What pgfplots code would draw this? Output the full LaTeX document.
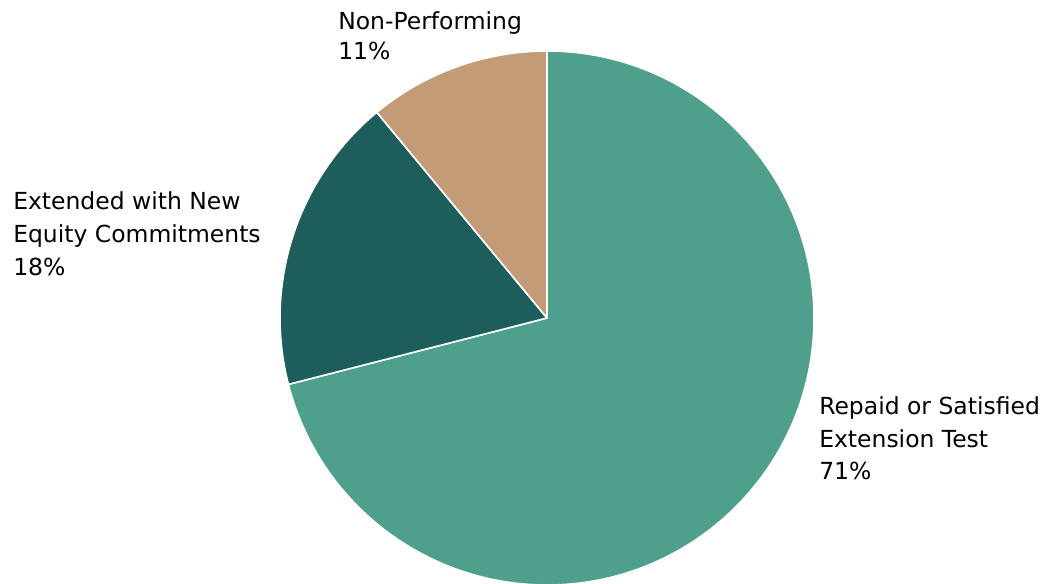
\documentclass[border=0pt]{standalone}
\usepackage{pgfplots}
\usepackage{pgfplotstable}
\usepackage{fontspec}
\setmainfont{DejaVu Sans}
\pgfplotsset{compat=1.18}
\definecolor{cRepaid}{RGB}{78,159,139}
\definecolor{cExt}{RGB}{29,94,92}
\definecolor{cNon}{RGB}{196,155,119}
\pgfplotstableread{
label value
Repaid 71
Extended 18
NonPerforming 11
}\piedata
\pgfplotstablegetelem{0}{value}\of\piedata \edef\va{\pgfplotsretval}
\pgfplotstablegetelem{1}{value}\of\piedata \edef\vb{\pgfplotsretval}
\pgfplotstablegetelem{2}{value}\of\piedata \edef\vc{\pgfplotsretval}
\pgfmathsetmacro\aS{90}
\pgfmathsetmacro\aA{90-3.6*\va}
\pgfmathsetmacro\aB{\aA-3.6*\vb}
\pgfmathsetmacro\aC{\aB-3.6*\vc}
\def\R{200.25pt}
\begin{document}
\begin{tikzpicture}
\begin{axis}[
  scale only axis, width=782.25pt, height=437.25pt,
  xmin=0, xmax=1043, ymin=0, ymax=583, y dir=reverse,
  hide axis, clip=true,
]
\fill[cRepaid, draw=white, line width=1.2pt, line join=round] (axis cs:547,318) -- ++(\aS:\R) arc[start angle=\aS, end angle=\aA, radius=\R] -- cycle;
\fill[cExt, draw=white, line width=1.2pt, line join=round] (axis cs:547,318) -- ++(\aA:\R) arc[start angle=\aA, end angle=\aB, radius=\R] -- cycle;
\fill[cNon, draw=white, line width=1.2pt, line join=round] (axis cs:547,318) -- ++(\aB:\R) arc[start angle=\aB, end angle=\aC, radius=\R] -- cycle;
\tikzset{lab/.style={anchor=base west, inner sep=0pt, font=\fontsize{17.6pt}{21pt}\selectfont, text=black}}
\node[lab] at (axis cs:338,29) {Non-Performing};
\node[lab] at (axis cs:338,59) {\vc\%};
\node[lab] at (axis cs:13,209) {Extended with New};
\node[lab] at (axis cs:13,242) {Equity Commitments};
\node[lab] at (axis cs:13,275) {\vb\%};
\node[lab] at (axis cs:819,414) {Repaid or Satisfied};
\node[lab] at (axis cs:819,447) {Extension Test};
\node[lab] at (axis cs:819,479) {\va\%};
\end{axis}
\pgfresetboundingbox
\path[use as bounding box] (current axis.south west) rectangle (current axis.north east);
\end{tikzpicture}
\end{document}
